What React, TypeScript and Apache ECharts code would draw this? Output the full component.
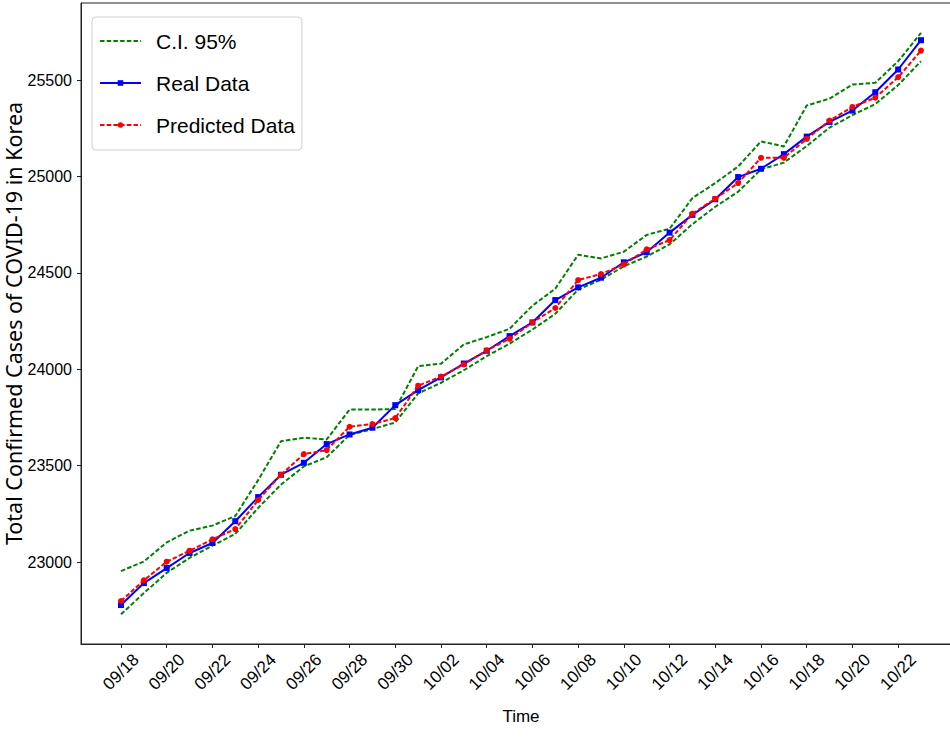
import React, { useEffect, useRef } from "react";
import * as echarts from "echarts";

const dates = [
  "09/18", "09/19", "09/20", "09/21", "09/22", "09/23", "09/24", "09/25", "09/26", "09/27",
  "09/28", "09/29", "09/30", "10/01", "10/02", "10/03", "10/04", "10/05", "10/06", "10/07",
  "10/08", "10/09", "10/10", "10/11", "10/12", "10/13", "10/14", "10/15", "10/16", "10/17",
  "10/18", "10/19", "10/20", "10/21", "10/22", "10/23",
];

const xTickLabels = [
  "09/18", "09/20", "09/22", "09/24", "09/26", "09/28", "09/30", "10/02", "10/04",
  "10/06", "10/08", "10/10", "10/12", "10/14", "10/16", "10/18", "10/20", "10/22",
];

const yTicks = [23000, 23500, 24000, 24500, 25000, 25500];

const realData = [
  22777, 22891, 22969, 23047, 23099, 23212, 23337, 23453, 23515, 23612,
  23662, 23697, 23814, 23892, 23958, 24030, 24096, 24172, 24243, 24359,
  24425, 24475, 24555, 24607, 24709, 24801, 24882, 24997, 25040, 25116,
  25207, 25283, 25342, 25437, 25555, 25707,
];

const predictedData = [
  22798, 22905, 23002, 23059, 23118, 23171, 23322, 23453, 23560, 23581,
  23702, 23716, 23747, 23915, 23962, 24025, 24098, 24158, 24243, 24318,
  24463, 24494, 24544, 24622, 24670, 24807, 24885, 24966, 25097, 25097,
  25195, 25290, 25361, 25409, 25515, 25653,
];

const ciUpper = [
  22953, 23003, 23102, 23163, 23189, 23239, 23425, 23627, 23645, 23636,
  23791, 23791, 23794, 24016, 24029, 24129, 24167, 24210, 24330, 24418,
  24594, 24575, 24610, 24697, 24729, 24888, 24966, 25052, 25182, 25156,
  25368, 25404, 25477, 25486, 25598, 25745,
];

const ciLower = [
  22729, 22839, 22944, 23022, 23085, 23146, 23281, 23402, 23496, 23544,
  23659, 23690, 23724, 23875, 23930, 23995, 24068, 24133, 24206, 24288,
  24413, 24465, 24534, 24585, 24648, 24753, 24843, 24921, 25037, 25072,
  25158, 25254, 25318, 25376, 25474, 25598,
];

const sans = '"Liberation Sans", Arial, sans-serif';

export default function App() {
  const ref = useRef<HTMLDivElement>(null);

  useEffect(() => {
    document.body.style.margin = "0";
    const chart = echarts.init(ref.current!, null, { renderer: "svg" });
    const xTickIdx = xTickLabels.map((l) => dates.indexOf(l));
    const toPairs = (arr: number[]) => arr.map((v, i) => [i, v]);
    const axisColor = "#222";
    const dash = [4.5, 2.2];

    chart.setOption({
      animation: false,
      backgroundColor: "#fff",
      grid: {
        left: 81,
        top: 3,
        width: 880,
        height: 641,
        show: true,
        borderColor: axisColor,
        borderWidth: 1,
        containLabel: false,
        outerBoundsMode: "none",
      },
      legend: {
        orient: "vertical",
        left: 92,
        top: 17,
        padding: [12, 7, 13, 7],
        itemWidth: 41,
        itemHeight: 7,
        itemGap: 18,
        backgroundColor: "#fff",
        borderColor: "#d0d0d0",
        borderWidth: 1,
        borderRadius: 4,
        data: [
          { name: "C.I. 95%", itemStyle: { opacity: 0 } },
          { name: "Real Data" },
          { name: "Predicted Data" },
        ],
        textStyle: {
          fontFamily: sans,
          fontSize: 21,
          lineHeight: 24,
          color: "#000",
          padding: [0, 0, 0, 10],
        },
      },
      xAxis: {
        type: "value",
        min: -1.75,
        max: 36.75,
        name: "Time",
        nameLocation: "middle",
        nameGap: 64,
        nameMoveOverlap: false,
        nameTextStyle: { fontFamily: sans, fontSize: 17, color: "#000" },
        axisLine: { show: true, onZero: false, lineStyle: { color: axisColor, width: 1 } },
        axisTick: {
          show: true,
          customValues: xTickIdx,
          length: 4,
          lineStyle: { color: axisColor },
        },
        axisLabel: {
          customValues: xTickIdx,
          formatter: (v: number) => dates[Math.round(v)],
          rotate: 45,
          align: "center",
          verticalAlign: "middle",
          margin: 28,
          fontFamily: sans,
          fontSize: 17,
          color: "#000",
        },
        splitLine: { show: false },
      },
      yAxis: {
        type: "value",
        min: 22575,
        max: 25900,
        name: "Total Confirmed Cases of COVID-19 in Korea",
        nameLocation: "middle",
        nameGap: 57,
        nameMoveOverlap: false,
        nameTextStyle: { fontFamily: '"Noto Sans", sans-serif', fontSize: 21.5, color: "#000" },
        axisLine: { show: true, onZero: false, lineStyle: { color: axisColor, width: 1 } },
        axisTick: {
          show: true,
          customValues: yTicks,
          length: 4,
          lineStyle: { color: axisColor },
        },
        axisLabel: {
          customValues: yTicks,
          formatter: (v: number) => String(v),
          margin: 9,
          fontFamily: sans,
          fontSize: 16,
          color: "#000",
        },
        splitLine: { show: false },
      },
      series: [
        {
          name: "C.I. 95%",
          type: "line",
          data: toPairs(ciUpper),
          showSymbol: false,
          symbol: "none",
          lineStyle: { color: "#008000", width: 2, type: dash },
          itemStyle: { color: "#008000" },
          z: 2,
        },
        {
          name: "C.I. 95%",
          type: "line",
          data: toPairs(ciLower),
          showSymbol: false,
          symbol: "none",
          lineStyle: { color: "#008000", width: 2, type: dash },
          itemStyle: { color: "#008000" },
          z: 2,
        },
        {
          name: "Real Data",
          type: "line",
          data: toPairs(realData),
          symbol: "rect",
          symbolSize: 6,
          lineStyle: { color: "#0000ff", width: 2 },
          itemStyle: { color: "#0000ff" },
          z: 3,
        },
        {
          name: "Predicted Data",
          type: "line",
          data: toPairs(predictedData),
          symbol: "circle",
          symbolSize: 6,
          lineStyle: { color: "#ff0000", width: 2, type: dash },
          itemStyle: { color: "#ff0000" },
          z: 4,
        },
      ],
    });

    return () => chart.dispose();
  }, []);

  return <div ref={ref} style={{ width: 950, height: 740 }} />;
}
